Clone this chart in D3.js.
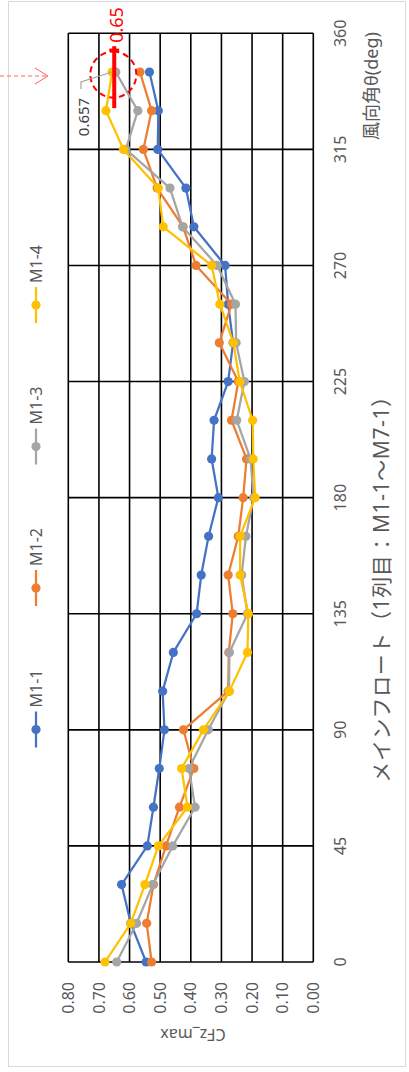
<!DOCTYPE html>
<html><head><meta charset="utf-8">
<script src="https://cdn.jsdelivr.net/npm/d3@7"></script>
<style>html,body{margin:0;padding:0;background:#fff;} svg{display:block;}</style>
</head><body>
<svg id="c" width="409" height="1072"></svg>
<script>
const angles = [0,15,30,45,60,75,90,105,120,135,150,165,180,195,210,225,240,255,270,285,300,315,330,345];
const seriesNames = ["M1-1","M1-2","M1-3","M1-4"];
const m11 = [0.546,0.596,0.626,0.542,0.522,0.503,0.486,0.492,0.457,0.381,0.366,0.342,0.310,0.332,0.324,0.278,0.262,0.278,0.288,0.390,0.416,0.508,0.506,0.535];
const m12 = [0.528,0.544,0.522,0.481,0.437,0.390,0.424,0.278,0.276,0.263,0.278,0.245,0.229,0.218,0.267,0.245,0.307,0.267,0.383,0.425,0.510,0.555,0.528,0.566];
const m13 = [0.642,0.577,0.524,0.459,0.386,0.406,0.343,0.275,0.274,0.215,0.234,0.220,0.195,0.205,0.250,0.225,0.252,0.254,0.314,0.427,0.468,0.612,0.573,0.645];
const m14 = [0.680,0.596,0.550,0.506,0.411,0.430,0.359,0.274,0.215,0.212,0.239,0.239,0.190,0.196,0.198,0.240,0.261,0.305,0.332,0.490,0.506,0.620,0.677,0.657];
const seriesColors = ["#4472C4","#ED7D31","#A5A5A5","#FFC000"];
const angleTicks = [0,45,90,135,180,225,270,315,360];
const valueTicks = [0,0.1,0.2,0.3,0.4,0.5,0.6,0.7,0.8];
const angleTitle = "風向角θ(deg)";
const subTitle = "メインフロート（1列目：M1-1～M7-1）";
const valueTitle = "CFz_max";
const markValue = 0.65;
const markLabel = "0.65";
const pointLabel = "0.657";

const allSeries = [m11,m12,m13,m14];
const font = "'Noto Sans', 'Noto Sans CJK JP', sans-serif";
const textGrey = "#595959";

const svg = d3.select("#c");
// chart border
svg.append("rect").attr("x",8.5).attr("y",1.5).attr("width",397).attr("height",1065)
  .attr("fill","none").attr("stroke","#d9d9d9").attr("stroke-width",1);

// inner (unrotated) frame: u -> screen y = 1072-u ; v -> screen x = v
const g = svg.append("g").attr("transform","translate(0,1072) rotate(-90)");

const x = d3.scaleLinear().domain([0,360]).range([110,1038.7]);
const y = d3.scaleLinear().domain([0,0.8]).range([313.3,68.3]);

// gridlines
g.append("g").selectAll("line").data(valueTicks).join("line")
  .attr("x1",x(0)).attr("x2",x(360)).attr("y1",d=>y(d)).attr("y2",d=>y(d))
  .attr("stroke","#000").attr("stroke-width",1.6);
g.append("g").selectAll("line").data(angleTicks).join("line")
  .attr("x1",d=>x(d)).attr("x2",d=>x(d)).attr("y1",y(0)).attr("y2",y(0.8))
  .attr("stroke","#000").attr("stroke-width",1.6);

// tick labels
g.append("g").selectAll("text").data(angleTicks).join("text")
  .attr("x",d=>x(d)).attr("y",340).attr("dy","0.35em")
  .attr("text-anchor","middle").attr("font-family",font).attr("font-size",16)
  .attr("fill",textGrey).text(d=>d);
g.append("g").selectAll("text").data(valueTicks).join("text")
  .attr("x",90).attr("y",d=>y(d)).attr("dy","0.35em")
  .attr("text-anchor","end").attr("font-family",font).attr("font-size",16)
  .attr("fill",textGrey).text(d=>d3.format(".2f")(d));

// axis titles
g.append("text").attr("transform","translate(37,193) rotate(-90)").attr("dy","0.35em")
  .attr("text-anchor","middle").attr("font-family",font).attr("font-size",16)
  .attr("fill",textGrey).text(valueTitle);
g.append("text").attr("x",986).attr("y",372).attr("dy","0.35em")
  .attr("text-anchor","middle").attr("font-family",font).attr("font-size",18)
  .attr("fill",textGrey).text(angleTitle);
g.append("text").attr("x",488).attr("y",382).attr("dy","0.35em")
  .attr("text-anchor","middle").attr("font-family",font).attr("font-size",21)
  .attr("letter-spacing","0.6px")
  .attr("fill",textGrey).text(subTitle);

// series
const line = d3.line().x((d,i)=>x(angles[i])).y(d=>y(d));
allSeries.forEach((s,k)=>{
  const sg = g.append("g");
  sg.append("path").attr("d",line(s)).attr("fill","none")
    .attr("stroke",seriesColors[k]).attr("stroke-width",2.25).attr("stroke-linejoin","round");
  sg.selectAll("circle").data(s).join("circle")
    .attr("cx",(d,i)=>x(angles[i])).attr("cy",d=>y(d)).attr("r",4.6)
    .attr("fill",seriesColors[k]);
});

// legend (M1-1 lowest on screen)
const legU = [342.5,484,625.5,767];
const lg = g.append("g");
seriesNames.forEach((n,k)=>{
  const u = legU[k];
  lg.append("line").attr("x1",u-18).attr("x2",u+18).attr("y1",36).attr("y2",36)
    .attr("stroke",seriesColors[k]).attr("stroke-width",2.25);
  lg.append("circle").attr("cx",u).attr("cy",36).attr("r",4.6).attr("fill",seriesColors[k]);
  lg.append("text").attr("x",u+22).attr("y",36).attr("dy","0.35em")
    .attr("font-family",font).attr("font-size",16).attr("fill",textGrey).text(n);
});

// annotations
const red = "#ff0000";
g.append("line").attr("x1",x(331)).attr("x2",x(355)).attr("y1",y(markValue)).attr("y2",y(markValue))
  .attr("stroke",red).attr("stroke-width",4);
g.append("line").attr("x1",x(353.5)).attr("x2",x(353.5)).attr("y1",y(markValue+0.016)).attr("y2",y(markValue-0.016))
  .attr("stroke",red).attr("stroke-width",3);
g.append("circle").attr("cx",x(344)).attr("cy",y(0.653)).attr("r",23)
  .attr("fill","none").attr("stroke",red).attr("stroke-width",2).attr("stroke-dasharray","6,4");
g.append("text").attr("x",1047).attr("y",116.5).attr("dy","0.35em").attr("text-anchor","middle")
  .attr("font-family",font).attr("font-size",18).attr("fill",red).text(markLabel);
// data label for M1-4 at 345
g.append("polyline").attr("points",`${983},${81} ${990},${81} ${x(345)},${y(m14[23])}`)
  .attr("fill","none").attr("stroke","#a5a5a5").attr("stroke-width",1.2);
g.append("text").attr("x",955).attr("y",83.5).attr("dy","0.35em").attr("text-anchor","middle")
  .attr("font-family",font).attr("font-size",15).attr("fill","#404040").text(pointLabel);

// dashed arrow on the left
svg.append("line").attr("x1",0).attr("x2",47).attr("y1",76).attr("y2",76)
  .attr("stroke","#ff6060").attr("stroke-width",1).attr("stroke-dasharray","4,3");
svg.append("polyline").attr("points","35,68 48,76 35,84").attr("fill","none")
  .attr("stroke","#ff6060").attr("stroke-width",1);
</script>
</body></html>
